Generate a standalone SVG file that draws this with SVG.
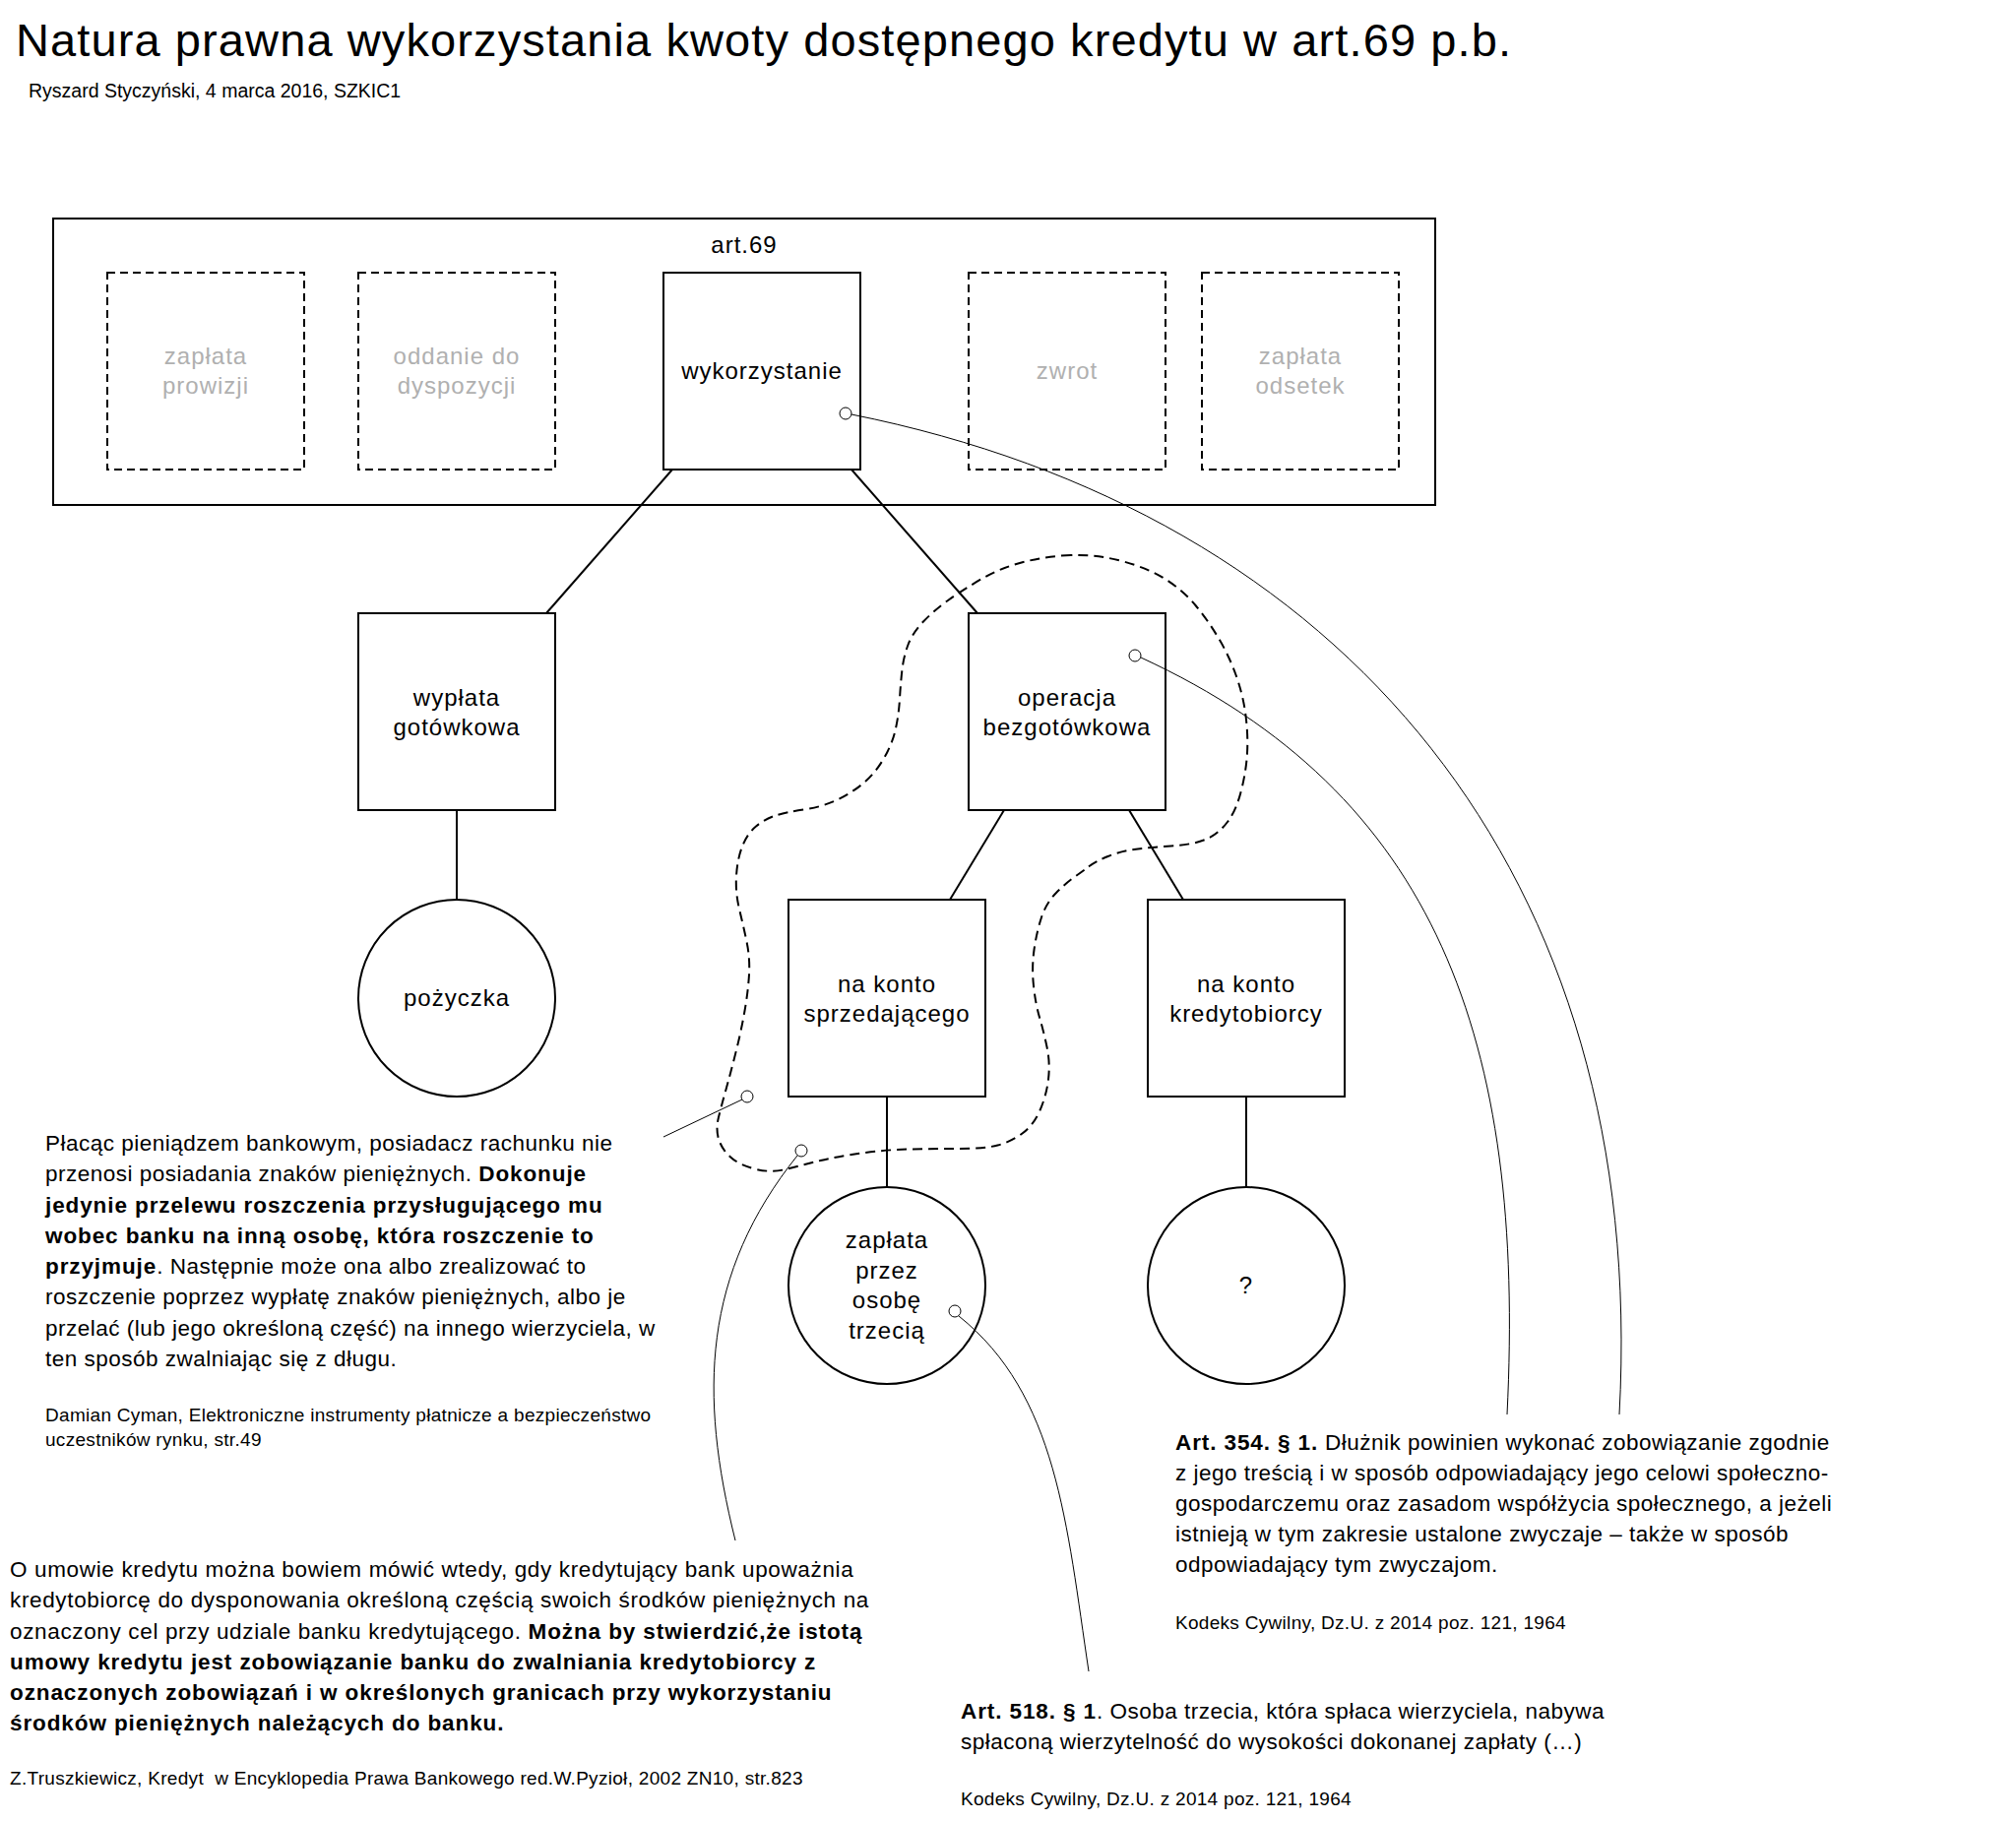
<svg xmlns="http://www.w3.org/2000/svg" width="2048" height="1850" viewBox="0 0 2048 1850">
<style>
text{font-family:"Liberation Sans",Arial,Helvetica,sans-serif;fill:#000}
.node{fill:#fff;stroke:#000;stroke-width:2}
.ghost{fill:none;stroke:#000;stroke-width:2;stroke-dasharray:8 5}
.lbl{font-size:24px;letter-spacing:1px;text-anchor:middle}
.glbl{font-size:24px;letter-spacing:1px;text-anchor:middle;fill:#b0b0b0}
.edge{fill:none;stroke:#000;stroke-width:2}
.thin{fill:none;stroke:#000;stroke-width:1}
.dot{fill:#fff;stroke:#000;stroke-width:1}
.blob{fill:none;stroke:#000;stroke-width:2;stroke-dasharray:10 6}
.body{font-size:22.5px;letter-spacing:0.5px}
.wide{letter-spacing:0.65px}
.cite{font-size:19px;letter-spacing:0.3px}
.b{font-weight:700;letter-spacing:0.9px}
</style>
<rect width="2048" height="1850" fill="#fff"/>
<text x="16" y="57" font-size="47" textLength="1519" lengthAdjust="spacing">Natura prawna wykorzystania kwoty dostępnego kredytu w art.69 p.b.</text>
<text x="29" y="99" font-size="19.5">Ryszard Styczyński, 4 marca 2016, SZKIC1</text>

<g id="art69">
<rect x="54" y="222" width="1404" height="291" fill="none" stroke="#000" stroke-width="2"/>
<text class="lbl" x="756" y="257">art.69</text>
</g>
<g id="n-prowizja">
<rect class="ghost" x="109" y="277" width="200" height="200"/>
<text class="glbl" x="209" y="370">zapłata</text>
<text class="glbl" x="209" y="400">prowizji</text>
</g>
<g id="n-dyspozycja">
<rect class="ghost" x="364" y="277" width="200" height="200"/>
<text class="glbl" x="464" y="370">oddanie do</text>
<text class="glbl" x="464" y="400">dyspozycji</text>
</g>
<g id="n-wykorzystanie">
<rect class="node" x="674" y="277" width="200" height="200"/>
<text class="lbl" x="774" y="385">wykorzystanie</text>
</g>
<g id="n-zwrot">
<rect class="ghost" x="984" y="277" width="200" height="200"/>
<text class="glbl" x="1084" y="385">zwrot</text>
</g>
<g id="n-odsetki">
<rect class="ghost" x="1221" y="277" width="200" height="200"/>
<text class="glbl" x="1321" y="370">zapłata</text>
<text class="glbl" x="1321" y="400">odsetek</text>
</g>

<g id="connectors">
<line class="edge" x1="683" y1="477" x2="555" y2="623"/>
<line class="edge" x1="865" y1="477" x2="993" y2="623"/>
<line class="edge" x1="464" y1="823" x2="464" y2="914"/>
<line class="edge" x1="1020" y1="823" x2="965" y2="914"/>
<line class="edge" x1="1147" y1="823" x2="1202" y2="914"/>
<line class="edge" x1="901" y1="1114" x2="901" y2="1206"/>
<line class="edge" x1="1266" y1="1114" x2="1266" y2="1206"/>
<path class="blob" d="M1088,564 Q1063,565 1039.5,571 Q1016,577 996.5,588.5 Q977,600 963,610 Q949,620 938,631.5 Q927,643 922.5,655 Q918,667 916.5,680 Q915,693 914,710 Q913,727 909.5,742 Q906,757 897,772 Q888,787 875.5,797 Q863,807 848.5,813.5 Q834,820 816.5,822.5 Q799,825 788,828.5 Q777,832 768,839.5 Q759,847 754,860 Q749,873 748,890 Q747,907 751,923.5 Q755,940 758.5,956.5 Q762,973 761,990 Q760,1007 756.5,1027 Q753,1047 748,1067 Q743,1087 738,1105 Q733,1123 730,1135 Q727,1147 730,1157 Q733,1167 741.5,1175 Q750,1183 766.5,1187.5 Q783,1192 800,1187.5 Q817,1183 833.5,1179 Q850,1175 875,1171.5 Q900,1168 925,1167.5 Q950,1167 975,1167 Q1000,1167 1013.5,1163.5 Q1027,1160 1038.5,1151.5 Q1050,1143 1056.5,1128 Q1063,1113 1065,1096.5 Q1067,1080 1063.5,1063.5 Q1060,1047 1056,1033.5 Q1052,1020 1050,1001.5 Q1048,983 1050.5,965 Q1053,947 1058,932 Q1063,917 1073,907 Q1083,897 1091.5,891 Q1100,885 1106.5,880 Q1113,875 1125.5,870 Q1138,865 1152,863 Q1166,861 1189.5,859.5 Q1213,858 1225.5,852.5 Q1238,847 1247,835 Q1256,823 1261,803 Q1266,783 1267,765 Q1268,747 1265.5,727 Q1263,707 1256,687 Q1249,667 1238,648.5 Q1227,630 1214.5,615 Q1202,600 1184,588.5 Q1166,577 1139.5,570 Q1113,563 1088,564 Z"/>
</g>

<g id="n-wyplata">
<rect class="node" x="364" y="623" width="200" height="200"/>
<text class="lbl" x="464" y="717">wypłata</text>
<text class="lbl" x="464" y="747">gotówkowa</text>
</g>
<g id="n-bezgotowkowa">
<rect class="node" x="984" y="623" width="200" height="200"/>
<text class="lbl" x="1084" y="717">operacja</text>
<text class="lbl" x="1084" y="747">bezgotówkowa</text>
</g>
<g id="n-pozyczka">
<circle class="node" cx="464" cy="1014" r="100"/>
<text class="lbl" x="464" y="1022">pożyczka</text>
</g>
<g id="n-sprzedajacy">
<rect class="node" x="801" y="914" width="200" height="200"/>
<text class="lbl" x="901" y="1008">na konto</text>
<text class="lbl" x="901" y="1038">sprzedającego</text>
</g>
<g id="n-kredytobiorca">
<rect class="node" x="1166" y="914" width="200" height="200"/>
<text class="lbl" x="1266" y="1008">na konto</text>
<text class="lbl" x="1266" y="1038">kredytobiorcy</text>
</g>
<g id="n-osoba-trzecia">
<circle class="node" cx="901" cy="1306" r="100"/>
<text class="lbl" x="901" y="1268">zapłata</text>
<text class="lbl" x="901" y="1299">przez</text>
<text class="lbl" x="901" y="1329">osobę</text>
<text class="lbl" x="901" y="1360">trzecią</text>
</g>
<g id="n-pytanie">
<circle class="node" cx="1266" cy="1306" r="100"/>
<text class="lbl" x="1266" y="1314">?</text>
</g>

<g id="annotation-links">
<path class="thin" d="M865,421 C1365,521 1675,887 1645,1437"/>
<path class="thin" d="M1159,668 C1459,806 1550,1057 1531,1437"/>
<path class="thin" d="M810,1174 C714,1294 709.5,1415 747,1565"/>
<path class="thin" d="M974,1337 C1074,1417 1083.5,1548 1106,1698"/>
<line class="thin" x1="674" y1="1155" x2="754" y2="1117"/>
<circle class="dot" cx="859" cy="420" r="6"/>
<circle class="dot" cx="1153" cy="666" r="6"/>
<circle class="dot" cx="759" cy="1114" r="6"/>
<circle class="dot" cx="814" cy="1169" r="6"/>
<circle class="dot" cx="970" cy="1332" r="6"/>
</g>

<g id="note-cyman">
<text class="body" x="46" y="1169">Płacąc pieniądzem bankowym, posiadacz rachunku nie</text>
<text class="body" x="46" y="1200">przenosi posiadania znaków pieniężnych. <tspan class="b">Dokonuje</tspan></text>
<text class="body b" x="46" y="1232">jedynie przelewu roszczenia przysługującego mu</text>
<text class="body b" x="46" y="1263">wobec banku na inną osobę, która roszczenie to</text>
<text class="body" x="46" y="1294"><tspan class="b">przyjmuje</tspan>. Następnie może ona albo zrealizować to</text>
<text class="body" x="46" y="1325">roszczenie poprzez wypłatę znaków pieniężnych, albo je</text>
<text class="body" x="46" y="1357">przelać (lub jego określoną część) na innego wierzyciela, w</text>
<text class="body" x="46" y="1388">ten sposób zwalniając się z długu.</text>
<text class="cite" x="46" y="1444">Damian Cyman, Elektroniczne instrumenty płatnicze a bezpieczeństwo</text>
<text class="cite" x="46" y="1469">uczestników rynku, str.49</text>
</g>

<g id="note-truszkiewicz">
<text class="body wide" x="10" y="1602">O umowie kredytu można bowiem mówić wtedy, gdy kredytujący bank upoważnia</text>
<text class="body wide" x="10" y="1633">kredytobiorcę do dysponowania określoną częścią swoich środków pieniężnych na</text>
<text class="body wide" x="10" y="1665">oznaczony cel przy udziale banku kredytującego. <tspan class="b">Można by stwierdzić,że istotą</tspan></text>
<text class="body b" x="10" y="1696">umowy kredytu jest zobowiązanie banku do zwalniania kredytobiorcy z</text>
<text class="body b" x="10" y="1727">oznaczonych zobowiązań i w określonych granicach przy wykorzystaniu</text>
<text class="body b" x="10" y="1758">środków pieniężnych należących do banku.</text>
<text class="cite" x="10" y="1813">Z.Truszkiewicz, Kredyt&#160; w Encyklopedia Prawa Bankowego red.W.Pyzioł, 2002 ZN10, str.823</text>
</g>

<g id="note-art354">
<text class="body" x="1194" y="1473"><tspan class="b">Art. 354. § 1.</tspan> Dłużnik powinien wykonać zobowiązanie zgodnie</text>
<text class="body" x="1194" y="1504">z jego treścią i w sposób odpowiadający jego celowi społeczno-</text>
<text class="body" x="1194" y="1535">gospodarczemu oraz zasadom współżycia społecznego, a jeżeli</text>
<text class="body" x="1194" y="1566">istnieją w tym zakresie ustalone zwyczaje – także w sposób</text>
<text class="body" x="1194" y="1597">odpowiadający tym zwyczajom.</text>
<text class="cite" x="1194" y="1655">Kodeks Cywilny, Dz.U. z 2014 poz. 121, 1964</text>
</g>

<g id="note-art518">
<text class="body" x="976" y="1746"><tspan class="b">Art. 518. § 1</tspan>. Osoba trzecia, która spłaca wierzyciela, nabywa</text>
<text class="body" x="976" y="1777">spłaconą wierzytelność do wysokości dokonanej zapłaty (…)</text>
<text class="cite" x="976" y="1834">Kodeks Cywilny, Dz.U. z 2014 poz. 121, 1964</text>
</g>
</svg>
